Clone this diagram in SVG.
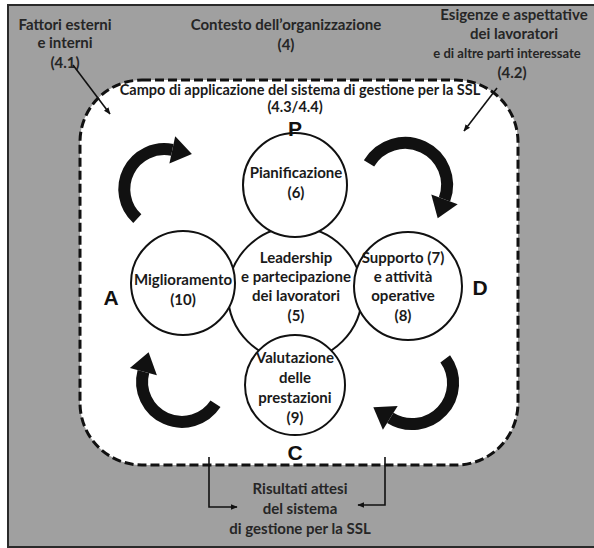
<svg xmlns="http://www.w3.org/2000/svg" width="594" height="548" viewBox="0 0 594 548">
<style>
.t{font-family:Lato,"Liberation Sans",sans-serif;font-weight:bold;font-size:15px;fill:#1a1a1a;text-anchor:middle}
.tg{font-family:Lato,"Liberation Sans",sans-serif;font-weight:bold;font-size:15px;fill:#262626;text-anchor:middle}
.big{font-family:"Liberation Sans",Arial,sans-serif;font-weight:bold;font-size:21px;fill:#111;text-anchor:middle}
.c{fill:#fff;stroke:#111;stroke-width:2}
.arc{fill:none;stroke:#111;stroke-width:12}
.ln{fill:none;stroke:#111;stroke-width:1.6}
</style>
<defs>
<marker id="ah" viewBox="0 0 10 10" refX="9" refY="5" markerWidth="7" markerHeight="7" orient="auto" markerUnits="userSpaceOnUse">
<path d="M0,1 L10,5 L0,9 z" fill="#111"/>
</marker>
</defs>
<rect x="0" y="0" width="594" height="548" fill="#fff"/>
<rect id="frame" x="8" y="5" width="600" height="542" fill="#a0a0a0" stroke="#2a2a2a" stroke-width="2"/>
<rect id="scope" x="80" y="80" width="438" height="385" rx="62" ry="62" fill="#fff" stroke="#111" stroke-width="3" stroke-dasharray="9 4"/>

<g id="outer-texts">
<text class="tg" x="65" y="30">Fattori esterni</text>
<text class="tg" x="65" y="48">e interni</text>
<text class="tg" x="65" y="68">(4.1)</text>
<text class="tg" x="286" y="30">Contesto dell’organizzazione</text>
<text class="tg" x="286" y="50">(4)</text>
<text class="tg" x="514" y="20">Esigenze e aspettative</text>
<text class="tg" x="514" y="39">dei lavoratori</text>
<text class="tg" x="507" y="58" style="font-size:13px">e di altre parti interessate</text>
<text class="tg" x="512" y="78">(4.2)</text>
<text class="t" x="300" y="95" style="font-size:14.5px">Campo di applicazione del sistema di gestione per la SSL</text>
<text class="t" x="295" y="112" style="font-size:14.5px">(4.3/4.4)</text>
<text class="tg" x="300" y="494">Risultati attesi</text>
<text class="tg" x="300" y="514">del sistema</text>
<text class="tg" x="300" y="534">di gestione per la SSL</text>
</g>

<g id="connectors">
<line class="ln" x1="73" y1="65" x2="110" y2="114" marker-end="url(#ah)"/>
<line class="ln" x1="497" y1="88" x2="464" y2="131" marker-end="url(#ah)"/>
<polyline class="ln" points="209,457 209,507 237,507" marker-end="url(#ah)"/>
<polyline class="ln" points="385,457 385,505 358,505" marker-end="url(#ah)"/>
<g id="cycle-arrows">
<path class="arc" d="M137.3,218.6 A40,40 0 0 1 172.3,149.9"/>
<polygon points="175.2,136.2 191.9,154.1 169.4,163.6" fill="#111"/>
<path class="arc" d="M369,163.4 A42,42 0 0 1 444.5,199.4"/>
<polygon points="457.7,204.2 437.7,218.2 431.3,194.6" fill="#111"/>
<path class="arc" d="M215.5,403.8 A40,40 0 0 1 143.4,371.6"/>
<polygon points="129.9,368 148.6,352.3 156.9,375.2" fill="#111"/>
<path class="arc" d="M445.2,358.9 A41,41 0 0 1 390.3,417.8"/>
<polygon points="382.9,429.7 373.3,407.2 397.7,405.9" fill="#111"/>
</g>
</g>

<g id="n-leadership">
<circle class="c" cx="295" cy="294" r="67"/>
<text class="t" x="296" y="263">Leadership</text>
<text class="t" x="296" y="282">e partecipazione</text>
<text class="t" x="296" y="301">dei lavoratori</text>
<text class="t" x="296" y="321">(5)</text>
</g>
<g id="n-pianificazione">
<circle class="c" cx="295" cy="185" r="52"/>
<text class="t" x="296" y="178">Pianificazione</text>
<text class="t" x="296" y="198">(6)</text>
</g>
<g id="n-miglioramento">
<circle class="c" cx="183" cy="283" r="52"/>
<text class="t" x="183" y="285">Miglioramento</text>
<text class="t" x="183" y="305">(10)</text>
</g>
<g id="n-supporto">
<circle class="c" cx="408" cy="286" r="54"/>
<text class="t" x="403" y="263">Supporto (7)</text>
<text class="t" x="403" y="282">e attività</text>
<text class="t" x="403" y="301">operative</text>
<text class="t" x="403" y="321">(8)</text>
</g>
<g id="n-valutazione">
<circle class="c" cx="295" cy="385" r="50"/>
<text class="t" x="295" y="363">Valutazione</text>
<text class="t" x="295" y="383">delle</text>
<text class="t" x="295" y="403">prestazioni</text>
<text class="t" x="295" y="423">(9)</text>
</g>
<g id="letters">
<text class="big" x="295" y="136">P</text>
<text class="big" x="111" y="305">A</text>
<text class="big" x="480" y="295">D</text>
<text class="big" x="295" y="460">C</text>
</g>
</svg>
